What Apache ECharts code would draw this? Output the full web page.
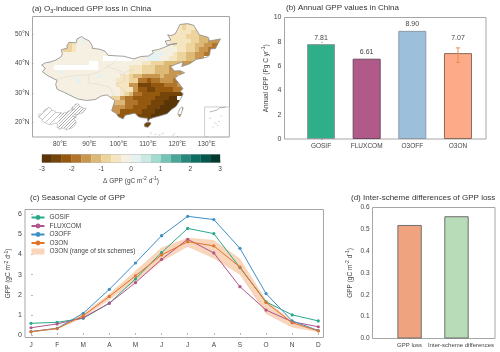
<!DOCTYPE html>
<html><head><meta charset="utf-8">
<style>html,body{margin:0;padding:0;background:#fff}#c{width:500px;height:352px}</style>
<script src="https://cdn.jsdelivr.net/npm/echarts@6/dist/echarts.min.js"></script>
</head><body><div id="c"></div>
<script>
// ---------- (a) map data: one character per 1.5 degree cell. digits = loss level, a = slight gain, blank = no data
const mapWestLon = 73.5, mapTopLat = 54.5, mapCell = 1.5;
const mapRows = [
"                              233332      ",
"                              2232233     ",
"                             22222333     ",
"        111                22222233344 4   ".slice(0,42),
"     1221a11               11222223344555 ",
"    233211111             111122233445566 ",
"    23321111111          111111223345566  ",
"   111111111111111111111aaaa11233445566   ",
"  111111111111       111aaa1122334455     ",
"11111111111  1111111111223334444555 6     ".slice(0,42),
"111          111111122233344455 54         ".slice(0,42),
"1111a111111111111111222333444555443        ".slice(0,42),
"1111111111111a111122344555545554 43        ".slice(0,42),
"11111111a11111111222336676655566 5         ".slice(0,42),
"11111111111111111222558887776665 6         ".slice(0,42),
"1111111111111111112225778877776667         ".slice(0,42),
"1111111111111111112346677778888887        ".slice(0,42),
"1111111111111112335667777788899 88        ".slice(0,42),
"                44466677788899999         ",
"                555667778889999 43         ".slice(0,42),
"                557777788899999 56         ".slice(0,42),
"                 7777788899999 55         ".slice(0,42),
"                  66   89998              ",
"                       888                ",
"                       88                 "
];
const colorLevels = ['#5a3507','#744409','#94580f','#b0742a','#c8964e','#dcb977','#ecd49c','#f5e5c0','#f6f0e3','#e6f2ef','#c9e9e2','#a2dcd0','#74c3b4','#4ba598','#27877c','#0b6d63','#03574c','#033a30'];
const colorBarTicks = [-3,-2,-1,0,1,2,3];
const lonTicks = [80,90,100,110,120,130];
const latTicks = [20,30,40,50];
const chinaOutline = [[73.7,39.5],[75,40.3],[76.5,40.5],[78.5,41.2],[80.2,42.2],[80.8,43.2],[80.4,44.7],[82.5,45.3],[82.3,46],[83,47.2],[85.5,47.1],[85.8,48.4],[87.3,49.2],[88.5,48.4],[90,47.7],[91,46],[91,45.2],[93.5,44.9],[95.4,44.2],[96.4,42.8],[100,42.6],[101.8,42.5],[105,41.6],[107.5,42.4],[110.2,42.6],[111.9,43.7],[111.4,44.4],[113.6,44.8],[116,45.7],[117.8,46.5],[119.9,46.8],[118.5,46.7],[116.5,46.3],[115.9,47.7],[117.8,48],[116.7,49.8],[117.8,49.5],[119.3,50.1],[120.1,51.7],[120.9,53.3],[123.5,53.6],[125.6,53],[127.5,49.8],[130.6,48.9],[130.9,47.7],[134.7,48.4],[133,45.1],[131.3,45],[131,43],[130.4,42.3],[128,41.7],[126.5,41.5],[124.3,40],[121.5,39],[122,40.6],[119.5,39.8],[117.7,39],[119,37.5],[121,37.6],[122.5,36.9],[120.3,36],[119.2,35],[120.9,32.8],[121.9,31.5],[121,30.6],[122,29.8],[121,27.8],[119.6,25.5],[118,24.4],[116.5,23],[114.2,22.3],[112,21.7],[110.5,21.2],[110,20.3],[109.8,21.5],[108,21.6],[106.7,22],[105.5,23.2],[102.2,22.5],[101.5,21.2],[99.9,22],[99.2,23.1],[97.6,24],[98.7,27.5],[97.5,28.3],[96,29.4],[94,29],[92,27.8],[89,27.5],[86,28],[81.5,30.2],[79,31.3],[78.5,33],[79,34.3],[76,35.8],[74,37.2],[75,38.5]];
const taiwanOutline = [[121.5,25.3],[122,25],[121.2,22.7],[120.8,21.9],[120.2,23],[120.8,24.6]];
const hainanOutline = [[110.7,20.1],[111,19.6],[110,18.4],[108.9,18.6],[108.7,19.4],[109.4,20]];
const insetEastStart = 20, insetEastEnd = 81;
const provinceLines = [
 [[78.5,34.5],[82,35.5],[86,36],[90,36.2],[94,37.5],[96,39],[98,40],[100,42.6]],
 [[90,36.2],[89.5,33.5],[93,33],[97,32],[98.7,28.5]],
 [[100,37],[102,36],[102,34],[99,33],[102,31],[102,28],[100,26]],
 [[96,39],[99,38],[102,37],[105,38]]
];
const scsCoast = [[[131,23.6],[133.4,24.2],[134.4,25],[136.5,25.2]]];
const scsDots = [[111,16.4],[112.5,16],[114,15.8],[115,16.3],[118.5,15.7],[119,16.2],[132.7,20],[133.2,19.6],[133.8,19],[132.2,18.5],[134.2,20.4],[131.2,21.5],[135,22.3]];
const scsFrame = [[129.3,15.1],[137.7,15.1],[137.7,25.3],[129.3,25.3]];

// ---------- (b)
const annualNames = ['GOSIF','FLUXCOM','O3OFF','O3ON'];
const annualValues = [7.81,6.61,8.90,7.07];
const annualColors = ['#2fae8a','#b05a89','#9cc0dc','#fdaa88'];
const annualBorders = ['#8a9c96','#6e4a60','#8d9aa5','#8c6a5a'];
const errLow = 6.3, errHigh = 7.5;
// ---------- (c)
const months = ['J','F','M','A','M','J','J','A','S','O','N','D'];
const gosif   = [.58,.63,.83,1.58,2.79,4.10,5.30,5.04,3.35,1.65,1.00,.70];
const fluxcom = [.36,.55,.86,1.58,2.60,3.76,4.76,4.08,2.40,1.24,.66,.41];
const o3off   = [.17,.33,1.08,2.27,3.58,4.94,5.90,5.74,4.31,2.06,.70,.22];
const o3on    = [.16,.32,.96,1.92,2.94,3.98,4.64,4.43,3.38,1.62,.61,.20];
const bandLow = [.12,.28,.85,1.75,2.65,3.65,4.39,3.80,3.00,1.04,.37,.15];
const bandHigh= [.20,.36,1.05,2.05,3.20,4.35,4.84,4.72,3.80,1.74,.70,.25];
// ---------- (d)
const diffNames = ['GPP loss','Inter-scheme differences'];
const diffValues = [0.52,0.56];
const diffColors = ['#efa47f','#b8dbb8'];

const FONT = '"Liberation Sans", Arial, sans-serif';
const TXT = '#444';
const FRAME = '#a6a6a6';
const mapCells = [];
mapRows.forEach((row, r) => { for (let c = 0; c < row.length; c++) {
  const ch = row[c]; if (ch === ' ') continue;
  const v = ch === 'a' ? 1/6 : -(+ch - 0.5) / 3;
  mapCells.push([mapWestLon + c * mapCell, mapTopLat - r * mapCell, v]);
}});
const colorOf = v => colorLevels[Math.max(0, Math.min(17, Math.floor((v + 3) * 3)))];
const insetOf = p => [72.5 + (p[0] - 73.5) * .268, 16.8 + (p[1] - 18) * .268];
const hatch = (size, w) => { const cv = document.createElement('canvas'); cv.width = cv.height = size;
  const g = cv.getContext('2d'); g.strokeStyle = '#8a8a8a'; g.lineWidth = w; g.beginPath();
  g.moveTo(-1, size + 1); g.lineTo(size + 1, -1); g.moveTo(-1, 1); g.lineTo(1, -1); g.moveTo(size - 1, size + 1); g.lineTo(size + 1, size - 1); g.stroke();
  return { image: cv, repeat: 'repeat' }; };

const sup = { fontSize: 5, fontFamily: FONT, color: TXT, padding: [0, 0, 4, 0] };
const sub = { fontSize: 5.5, fontFamily: FONT, color: '#333', padding: [4, 0, 0, 0] };
const unitStyle = { fontSize: 6.5, color: TXT, fontFamily: FONT, rich: { sup } };
const lab = { fontSize: 6.5, color: TXT, fontFamily: FONT, margin: 3 };
const titleOf = (text, left, top) => ({ text, left, top, padding: 0, textStyle: { fontSize: 8, fontWeight: 'normal', color: '#333', fontFamily: FONT, rich: { sub: { ...sub }, sup } } });
const frameAxis = { axisLine: { show: false }, splitLine: { show: false } };
const inTick = { inside: true, length: 2, lineStyle: { color: '#999', width: .7 } };
const gridFrame = { show: true, borderColor: FRAME, borderWidth: 1, backgroundColor: 'transparent', outerBoundsMode: 'none' };

const polyItem = (pts, style) => ({ type: 'custom', xAxisIndex: 0, yAxisIndex: 0, z: 4, silent: true, data: [[0]], clip: false,
  renderItem: (p, api) => ({ type: 'polygon', shape: { points: pts.map(q => api.coord(q)) }, style }) });
const openItem = (lines, style) => ({ type: 'custom', xAxisIndex: 0, yAxisIndex: 0, z: 4, silent: true, data: lines.map((l, i) => [i]),
  renderItem: (p, api) => ({ type: 'polyline', shape: { points: lines[api.value(0)].map(q => api.coord(q)) }, style }) });

const option = {
  animation: false, backgroundColor: '#fff',
  title: [
    titleOf('(a) O{sub|3}-induced GPP loss in China', 32, 4),
    titleOf('(b) Annual GPP values in China', 286, 4),
    titleOf('(c) Seasonal Cycle of GPP', 30, 194),
    titleOf('(d) Inter-scheme differences of GPP loss', 351, 194)
  ],
  grid: [
    { left: 32.5, top: 16.5, width: 197, height: 120.5, ...gridFrame },
    { left: 42, top: 154.5, width: 178, height: 8, show: true, borderColor: '#999', borderWidth: .7, outerBoundsMode: 'none' },
    { left: 284.5, top: 17.5, width: 201.5, height: 121.5, ...gridFrame },
    { left: 25, top: 209.5, width: 298.5, height: 128, ...gridFrame },
    { left: 372.5, top: 207.5, width: 122.5, height: 131, ...gridFrame }
  ],
  xAxis: [
    { type: 'value', gridIndex: 0, min: 70.6, max: 137.8, ...frameAxis, axisTick: { ...inTick, customValues: lonTicks }, axisLabel: { ...lab, customValues: lonTicks, margin: 4, formatter: v => v + '°E' } },
    { type: 'value', gridIndex: 1, min: -3, max: 3, ...frameAxis, axisTick: { ...inTick, customValues: colorBarTicks }, axisLabel: { ...lab, customValues: colorBarTicks, margin: 3 },
      name: 'Δ GPP (gC m{sup|-2} d{sup|-1})', nameLocation: 'middle', nameGap: 14, nameTextStyle: unitStyle },
    { type: 'value', gridIndex: 2, min: -0.8, max: 3.614, ...frameAxis, axisTick: { ...inTick, customValues: [0,1,2,3] }, axisLabel: { ...lab, customValues: [0,1,2,3], margin: 4, formatter: v => annualNames[v] } },
    { type: 'value', gridIndex: 3, min: -0.23, max: 11.2, ...frameAxis, axisTick: { ...inTick, customValues: months.map((m, i) => i) }, axisLabel: { ...lab, customValues: months.map((m, i) => i), margin: 4, formatter: v => months[v] } },
    { type: 'value', gridIndex: 4, min: -0.79, max: 1.82, ...frameAxis, axisTick: { ...inTick, customValues: [0,1] }, axisLabel: { ...lab, fontSize: 6, customValues: [0,1], margin: 4, hideOverlap: false, rich: { s: { fontSize: 6, color: TXT, fontFamily: FONT, padding: [0, 0, 0, 9] } }, formatter: v => v === 1 ? '{s|' + diffNames[1] + '}' : diffNames[v] } }
  ],
  yAxis: [
    { type: 'value', gridIndex: 0, min: 15.1, max: 56, ...frameAxis, axisTick: { ...inTick, customValues: latTicks }, axisLabel: { ...lab, customValues: latTicks, formatter: v => v + '°N' } },
    { type: 'value', gridIndex: 1, min: 0, max: 1, show: false },
    { type: 'value', gridIndex: 2, min: 0, max: 10, interval: 2, ...frameAxis, axisTick: inTick, axisLabel: { ...lab, fontSize: 7 },
      name: 'Annual GPP (Pg C yr{sup|-1})', nameLocation: 'middle', nameGap: 14, nameRotate: 90, nameTextStyle: unitStyle },
    { type: 'value', gridIndex: 3, min: -0.125, max: 6.24, ...frameAxis, axisTick: { ...inTick, customValues: [0,1,2,3,4,5,6] }, axisLabel: { ...lab, fontSize: 7, customValues: [0,1,2,3,4,5,6] },
      name: 'GPP (gC m{sup|-2} d{sup|-1})', nameLocation: 'middle', nameGap: 12, nameMoveOverlap: false, nameRotate: 90, nameTextStyle: unitStyle },
    { type: 'value', gridIndex: 4, min: 0, max: 0.6, interval: 0.1, ...frameAxis, axisTick: inTick, axisLabel: { ...lab, formatter: v => v.toFixed(1) },
      name: 'GPP (gC m{sup|-2} d{sup|-1})', nameLocation: 'middle', nameGap: 18, nameRotate: 90, nameTextStyle: unitStyle }
  ],
  legend: {
    left: 30.5, top: 214, orient: 'vertical', itemWidth: 13, itemHeight: 6, itemGap: 1.5, padding: 0,
    textStyle: { fontSize: 6.5, color: TXT, fontFamily: FONT, lineHeight: 7 },
    data: [{ name: 'GOSIF' }, { name: 'FLUXCOM' }, { name: 'O3OFF' }, { name: 'O3ON' }, { name: 'O3ON (range of six schemes)', icon: 'rect' }]
  },
  series: [
    // map cells
    { type: 'custom', xAxisIndex: 0, yAxisIndex: 0, z: 2, silent: true, data: mapCells, encode: { x: 0, y: 1 },
      renderItem: (p, api) => {
        const a = api.coord([api.value(0), api.value(1)]), b = api.coord([api.value(0) + mapCell, api.value(1) - mapCell]);
        const x = Math.round(a[0]), y = Math.round(a[1]);
        return { type: 'rect', shape: { x, y, width: Math.round(b[0]) - x, height: Math.round(b[1]) - y }, style: { fill: colorOf(api.value(2)) } };
      } },
    // white mask outside the land
    { type: 'custom', xAxisIndex: 0, yAxisIndex: 0, z: 3, silent: true, data: [[0]],
      renderItem: (p, api) => {
        const cs = p.coordSys, x0 = cs.x + 1, y0 = cs.y + 1, x1 = cs.x + cs.width - 1, y1 = cs.y + cs.height - 1;
        let d = `M${x0} ${y0}L${x0} ${y1}L${x1} ${y1}L${x1} ${y0}Z`;
        [chinaOutline, taiwanOutline, hainanOutline].forEach(o => {
          d += o.map((q, i) => { const c = api.coord(q); return (i ? 'L' : 'M') + c[0].toFixed(2) + ' ' + c[1].toFixed(2); }).join('') + 'Z';
        });
        return { type: 'path', shape: { pathData: d, x: x0, y: y0, width: x1 - x0, height: y1 - y0, layout: 'cover' }, style: { fill: '#fff' } };
      } },
    openItem(provinceLines, { fill: 'none', stroke: 'rgba(120,120,120,.18)', lineWidth: .6 }),
    polyItem(chinaOutline, { fill: 'none', stroke: '#8a8a8a', lineWidth: .8 }),
    polyItem(taiwanOutline, { fill: 'none', stroke: '#8a8a8a', lineWidth: .7 }),
    polyItem(hainanOutline, { fill: 'none', stroke: '#8a8a8a', lineWidth: .7 }),
    polyItem(chinaOutline.map(insetOf), { fill: hatch(6, .5), stroke: '#aaa', lineWidth: .6 }),
    polyItem(chinaOutline.slice(insetEastStart, insetEastEnd).map(insetOf), { fill: hatch(3, .55), stroke: 'none' }),
    polyItem(scsFrame, { fill: 'none', stroke: '#c4c4c4', lineWidth: .8 }),
    openItem(scsCoast, { fill: 'none', stroke: '#999', lineWidth: .7 }),
    { type: 'scatter', xAxisIndex: 0, yAxisIndex: 0, z: 4, silent: true, symbolSize: 1.2, itemStyle: { color: '#aaa' }, data: scsDots },
    // colour bar
    { type: 'custom', xAxisIndex: 1, yAxisIndex: 1, silent: true, data: colorLevels.map((c, i) => [i]),
      renderItem: (p, api) => {
        const i = api.value(0), a = api.coord([-3 + i / 3, 1]), b = api.coord([-3 + (i + 1) / 3, 0]);
        return { type: 'rect', shape: { x: a[0], y: a[1], width: b[0] - a[0], height: b[1] - a[1] }, style: { fill: colorLevels[i] } };
      } },
    // (b)
    { type: 'bar', xAxisIndex: 2, yAxisIndex: 2, barWidth: 28, silent: true,
      label: { show: true, position: 'top', distance: 3, fontSize: 7, color: TXT, fontFamily: FONT, formatter: p => p.value[1].toFixed(2) },
      data: annualValues.map((v, i) => ({ value: [i, v], itemStyle: { color: annualColors[i], borderColor: annualBorders[i], borderWidth: 1 }, label: i === 3 ? { distance: 12 } : undefined })) },
    { type: 'custom', xAxisIndex: 2, yAxisIndex: 2, z: 5, silent: true, data: [[3, errLow, errHigh]],
      renderItem: (p, api) => {
        const x = api.value(0), lo = api.coord([x, api.value(1)]), hi = api.coord([x, api.value(2)]);
        const s = { stroke: '#ea8d4e', lineWidth: 1, fill: 'none' };
        return { type: 'group', children: [
          { type: 'line', shape: { x1: lo[0], y1: lo[1], x2: hi[0], y2: hi[1] }, style: s },
          { type: 'line', shape: { x1: lo[0] - 2, y1: lo[1], x2: lo[0] + 2, y2: lo[1] }, style: s },
          { type: 'line', shape: { x1: hi[0] - 2, y1: hi[1], x2: hi[0] + 2, y2: hi[1] }, style: s } ] };
      } },
    // (c)
    { name: 'O3ON (range of six schemes)', type: 'custom', xAxisIndex: 3, yAxisIndex: 3, z: 1, silent: true, itemStyle: { color: '#f8d5bb' }, data: [[0]],
      renderItem: (p, api) => ({ type: 'polygon',
        shape: { points: bandHigh.map((v, i) => api.coord([i, v])).concat(bandLow.map((v, i) => api.coord([i, v])).reverse()) },
        style: { fill: '#f8d5bb' } }) },
    ...[['GOSIF', gosif, '#2aa98a'], ['FLUXCOM', fluxcom, '#b0568c'], ['O3OFF', o3off, '#3f8fc4'], ['O3ON', o3on, '#e0742a']].map(([name, vals, color]) => ({
      name, type: 'line', xAxisIndex: 3, yAxisIndex: 3, z: 3, silent: true, symbol: 'circle', symbolSize: 3.2,
      lineStyle: { color, width: 1 }, itemStyle: { color }, data: vals.map((v, i) => [i, v]) })),
    // (d)
    { type: 'bar', xAxisIndex: 4, yAxisIndex: 4, barWidth: 24.4, silent: true,
      data: diffValues.map((v, i) => ({ value: [i, v], itemStyle: { color: diffColors[i], borderColor: '#6f6f6f', borderWidth: 1 } })) }
  ]
};
echarts.init(document.getElementById('c'), null, { renderer: 'canvas' }).setOption(option);
</script></body></html>
